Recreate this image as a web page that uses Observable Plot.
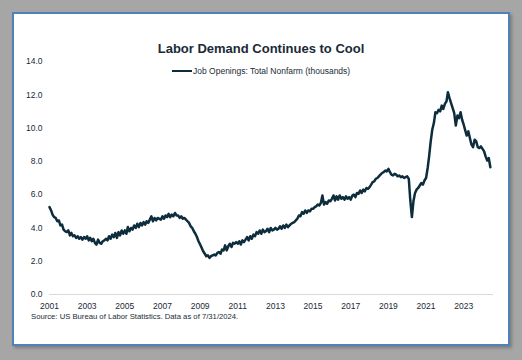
<!DOCTYPE html>
<html><head><meta charset="utf-8">
<script src="https://cdn.jsdelivr.net/npm/d3@7"></script>
<script src="https://cdn.jsdelivr.net/npm/@observablehq/plot@0.6"></script>
<style>
body{margin:0;background:#a6a6a6;width:522px;height:360px;overflow:hidden;font-family:"Liberation Sans",Arial,sans-serif;position:relative;}
#panel{position:absolute;left:12px;top:12px;width:494px;height:330px;background:#fff;border:2px solid #4f81bd;box-shadow:2px 2px 3px rgba(0,0,0,0.25);}
#chart{position:absolute;left:0;top:0;}
#title{position:absolute;left:0;width:522px;top:41px;text-align:center;font-weight:bold;font-size:13px;color:#1a2a36;}
#legend{position:absolute;left:172px;top:66px;font-size:8.5px;color:#1a2a36;display:flex;align-items:center;white-space:nowrap;}
#legend span.sw{display:inline-block;width:20px;height:2px;background:#0d2c3c;margin-right:1px;}
#source{position:absolute;left:31px;top:312px;font-size:7.7px;color:#1a2a36;white-space:nowrap;}
</style></head>
<body>
<div id="panel"></div>
<div id="chart"></div>
<div id="title"></div>
<div id="legend"><span class="sw"></span><span id="legtext"></span></div>
<div id="source"></div>
<script>
const titleText = "Labor Demand Continues to Cool";
const seriesName = "Job Openings: Total Nonfarm (thousands)";
const sourceText = "Source: US Bureau of Labor Statistics. Data as of 7/31/2024.";
const startYear = 2001;
// monthly job openings (millions), Jan 2001 – Jun 2024
const openings = [
  5.25, 5.05, 4.80, 4.65, 4.60, 4.40, 4.45, 4.15, 4.20, 3.90, 3.80, 3.75,
  3.85, 3.55, 3.70, 3.50, 3.55, 3.40, 3.50, 3.35, 3.45, 3.30, 3.45, 3.35,
  3.50, 3.25, 3.40, 3.20, 3.35, 3.10, 3.00, 3.30, 3.10, 3.05, 3.20, 3.25,
  3.35, 3.25, 3.50, 3.35, 3.60, 3.45, 3.70, 3.40, 3.75, 3.55, 3.85, 3.65,
  3.85, 3.65, 4.05, 3.80, 4.00, 3.90, 4.15, 4.00, 4.25, 4.05, 4.30, 4.15,
  4.35, 4.20, 4.40, 4.30, 4.50, 4.70, 4.40, 4.60, 4.45, 4.60, 4.55, 4.50,
  4.70, 4.55, 4.75, 4.65, 4.85, 4.65, 4.80, 4.70, 4.90, 4.75, 4.75, 4.60,
  4.70, 4.55, 4.60, 4.50, 4.40, 4.30, 4.10, 4.00, 3.80, 3.65, 3.45, 3.20,
  3.00, 2.80, 2.60, 2.45, 2.30, 2.35, 2.20, 2.30, 2.35, 2.40, 2.35, 2.50,
  2.55, 2.45, 2.70, 2.65, 2.95, 2.65, 2.90, 3.05, 2.85, 3.10, 3.05, 3.15,
  3.05, 3.20, 3.00, 3.25, 3.15, 3.30, 3.45, 3.25, 3.50, 3.35, 3.60, 3.50,
  3.75, 3.65, 3.85, 3.65, 3.90, 3.75, 3.80, 3.95, 3.75, 4.00, 3.85, 3.90,
  4.00, 3.90, 3.95, 4.10, 3.95, 4.15, 4.00, 4.20, 4.05, 4.15, 4.25, 4.30,
  4.35, 4.45, 4.55, 4.75, 4.70, 4.95, 4.85, 5.05, 4.90, 5.05, 5.00, 5.15,
  5.15, 5.25, 5.30, 5.40, 5.35, 5.50, 5.95, 5.40, 5.55, 5.45, 5.65, 5.60,
  5.75, 5.95, 5.65, 5.90, 5.70, 5.95, 5.75, 5.85, 5.70, 5.90, 5.75, 5.85,
  5.70, 5.95, 6.00, 5.85, 6.10, 6.05, 6.25, 6.10, 6.30, 6.20, 6.40, 6.35,
  6.45, 6.60, 6.75, 6.80, 6.95, 7.00, 7.10, 7.20, 7.30, 7.35, 7.45, 7.40,
  7.55, 7.35, 7.20, 7.15, 7.25, 7.20, 7.10, 7.15, 7.05, 7.10, 7.00, 7.05,
  7.10, 6.95, 5.65, 4.65, 5.60, 6.10, 6.30, 6.40, 6.55, 6.70, 6.60, 6.85,
  7.00, 7.60, 8.30, 9.20, 9.90, 10.30, 10.95, 10.90, 11.10, 11.00, 11.35, 11.15,
  11.45, 11.60, 12.15, 11.80, 11.50, 11.20, 10.90, 10.15, 10.75, 10.60, 10.95, 10.50,
  10.20, 9.85, 9.55, 9.80, 9.40, 9.00, 8.85, 9.30, 9.20, 8.85, 8.80, 8.90,
  8.75, 8.60, 8.30, 8.05, 8.20, 7.65
];
const xTickYears = [2001, 2003, 2005, 2007, 2009, 2011, 2013, 2015, 2017, 2019, 2021, 2023];
const yTicks = [0, 2, 4, 6, 8, 10, 12, 14];

const data = openings.map((v, i) => ({date: new Date(Date.UTC(startYear + Math.floor(i / 12), i % 12, 1)), value: v}));
const xTicks = xTickYears.map(y => new Date(Date.UTC(y, 0, 1)));

document.getElementById("title").textContent = titleText;
document.getElementById("legtext").textContent = seriesName;
document.getElementById("source").textContent = sourceText;

const chart = Plot.plot({
  width: 522, height: 360,
  marginLeft: 49, marginRight: 29, marginTop: 61, marginBottom: 66,
  style: {background: "transparent", fontFamily: "Liberation Sans, Arial, sans-serif", fontSize: "8.5px", color: "#1a2a36"},
  x: {type: "utc", domain: [new Date(Date.UTC(2001, 0, 1)), new Date(Date.UTC(2024, 7, 1))]},
  y: {domain: [0, 14]},
  marks: [
    Plot.ruleY([0], {stroke: "#d9d9d9", strokeWidth: 1}),
    Plot.axisX(xTicks, {tickSize: 0, tickPadding: 8, tickFormat: d3.utcFormat("%Y"), label: null}),
    Plot.axisY(yTicks, {tickSize: 0, tickPadding: 7, tickFormat: d3.format(".1f"), label: null}),
    Plot.line(data, {x: "date", y: "value", stroke: "#0d2c3c", strokeWidth: 2.5, strokeLinejoin: "round"})
  ]
});
document.getElementById("chart").appendChild(chart);
</script>
</body></html>
